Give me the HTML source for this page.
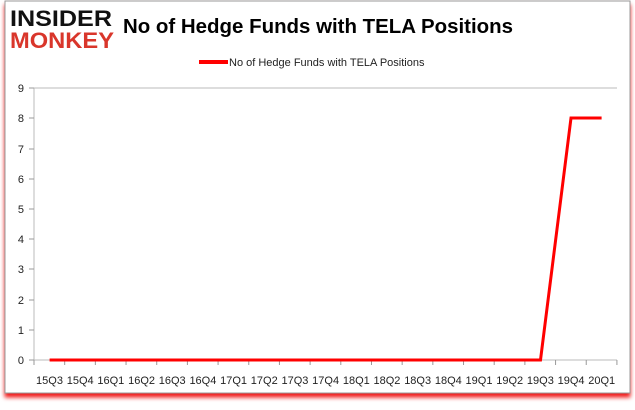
<!DOCTYPE html>
<html><head><style>
body{margin:0;background:#fff;width:635px;height:405px;overflow:hidden;font-family:"Liberation Sans",sans-serif}
</style></head><body>
<svg width="635" height="405" xmlns="http://www.w3.org/2000/svg">
<defs><filter id="s" x="-5%" y="-5%" width="110%" height="115%"><feDropShadow dx="0" dy="4" stdDeviation="2" flood-color="#e00" flood-opacity="0.9"/></filter></defs>
<rect x="5" y="1" width="625" height="392" fill="#fff" stroke="#999" filter="url(#s)"/>
<text x="10" y="26" font-size="22" font-weight="bold" fill="#111" font-family="Liberation Sans" textLength="102" lengthAdjust="spacingAndGlyphs">INSIDER</text>
<text x="10" y="48" font-size="22" font-weight="bold" fill="#d9362b" font-family="Liberation Sans" textLength="104" lengthAdjust="spacingAndGlyphs">MONKEY</text>
<text x="123" y="33" font-size="20.5" font-weight="bold" fill="#000" textLength="390" lengthAdjust="spacingAndGlyphs">No of Hedge Funds with TELA Positions</text>
<line x1="199" y1="62" x2="228" y2="62" stroke="#f00" stroke-width="4"/>
<text x="229" y="66" font-size="11" fill="#222">No of Hedge Funds with TELA Positions</text>
<g stroke="#bbb" stroke-width="1">
<line x1="34" y1="88" x2="617" y2="88"/>
<line x1="34" y1="88" x2="34" y2="360"/>
<line x1="34" y1="360" x2="617" y2="360"/>
</g>
<g font-size="11" fill="#222" text-anchor="end">
<text x="24" y="364">0</text><text x="24" y="334">1</text><text x="24" y="304">2</text><text x="24" y="273">3</text><text x="24" y="243">4</text><text x="24" y="213">5</text><text x="24" y="183">6</text><text x="24" y="153">7</text><text x="24" y="122">8</text><text x="24" y="92">9</text>
</g>
<g stroke="#999">
<line x1="29" y1="360" x2="34" y2="360"/><line x1="29" y1="330" x2="34" y2="330"/><line x1="29" y1="300" x2="34" y2="300"/><line x1="29" y1="269" x2="34" y2="269"/><line x1="29" y1="239" x2="34" y2="239"/><line x1="29" y1="209" x2="34" y2="209"/><line x1="29" y1="179" x2="34" y2="179"/><line x1="29" y1="149" x2="34" y2="149"/><line x1="29" y1="118" x2="34" y2="118"/><line x1="29" y1="88" x2="34" y2="88"/>
</g>
<g id="t" stroke="#999"></g>
<g font-size="11" fill="#222" text-anchor="middle" id="l"></g>
<polyline fill="none" stroke="#f00" stroke-width="3" points="49.6,360 540.5,360 571,118 601.6,118"/>
<script>
var q=["15Q3","15Q4","16Q1","16Q2","16Q3","16Q4","17Q1","17Q2","17Q3","17Q4","18Q1","18Q2","18Q3","18Q4","19Q1","19Q2","19Q3","19Q4","20Q1"];
var t=document.getElementById('t'),l=document.getElementById('l'),n='http://www.w3.org/2000/svg';
for(var i=0;i<=19;i++){var x=34+i*30.68;var e=document.createElementNS(n,'line');e.setAttribute('x1',x);e.setAttribute('x2',x);e.setAttribute('y1',360);e.setAttribute('y2',365);t.appendChild(e);}
for(var i=0;i<19;i++){var e=document.createElementNS(n,'text');e.setAttribute('x',49.5+i*30.68);e.setAttribute('y',384);e.textContent=q[i];l.appendChild(e);}
</script>
</svg>
</body></html>
